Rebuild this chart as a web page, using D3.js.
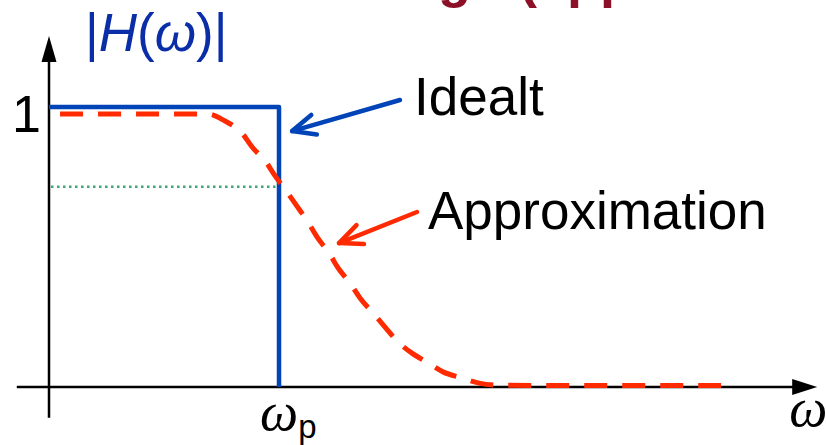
<!DOCTYPE html>
<html>
<head>
<meta charset="utf-8">
<script src="https://cdn.jsdelivr.net/npm/d3@7"></script>
<style>
  html, body { margin: 0; padding: 0; background: #ffffff; }
  svg { display: block; }
</style>
</head>
<body>
<svg id="chart" width="826" height="445"></svg>
<script>
// ---- data (frequency normalised so that omega_p = 1) ----
const idealOmega = [0, 1, 1];
const idealMag   = [1, 1, 0];

const approxOmega = [0.048, 0.691, 0.765, 0.839, 0.883, 0.943, 0.983, 1.035, 1.078, 1.126, 1.165,
                     1.217, 1.257, 1.309, 1.352, 1.409, 1.461, 1.517, 1.578, 1.648, 1.713, 1.796,
                     1.870, 1.961, 2.922];
const approxMag   = [0.975, 0.975, 0.950, 0.907, 0.857, 0.804, 0.754, 0.696, 0.646, 0.589, 0.536,
                     0.479, 0.425, 0.371, 0.318, 0.264, 0.214, 0.161, 0.121, 0.086, 0.054, 0.032,
                     0.014, 0.006, 0.005];

const halfPowerLevel = [0.715];          // dotted reference level
const xAxisExtent = [-0.14, 3.34];
const yAxisExtent = [-0.11, 1.254];

const yTickValues = [1];
const yTickLabels = ["1"];
const xTickValues = [1];

const labelIdeal  = "Idealt";
const labelApprox = "Approximation";
const titleText   = "Filterdesign (approximation)";

// ---- scales ----
const svg = d3.select("#chart");
svg.append("rect").attr("width", 826).attr("height", 445).attr("fill", "#ffffff");

const x = d3.scaleLinear().domain([0, 1]).range([49, 279]);
const y = d3.scaleLinear().domain([0, 1]).range([387, 107]);

const blue = "#0044b8";
const red = "#ff2a00";

// ---- clipped title at very top (only descenders visible, as in the reference) ----
svg.append("text")
  .attr("x", 198).attr("y", -3)
  .attr("font-family", "Liberation Sans, Arial, sans-serif")
  .attr("font-size", 54).attr("font-weight", "bold")
  .attr("fill", "#8b1028")
  .text(titleText);

// ---- axes ----
const axes = svg.append("g");
axes.append("line")
  .attr("x1", x(xAxisExtent[0])).attr("x2", x(xAxisExtent[1]) - 20)
  .attr("y1", y(0)).attr("y2", y(0))
  .attr("stroke", "#000").attr("stroke-width", 2.5);
axes.append("path")
  .attr("d", `M${x(xAxisExtent[1])},${y(0)} L${x(xAxisExtent[1]) - 25},${y(0) - 8} L${x(xAxisExtent[1]) - 25},${y(0) + 8} Z`)
  .attr("fill", "#000");
axes.append("line")
  .attr("x1", x(0)).attr("x2", x(0))
  .attr("y1", y(yAxisExtent[0])).attr("y2", y(yAxisExtent[1]) + 20)
  .attr("stroke", "#000").attr("stroke-width", 2.5);
axes.append("path")
  .attr("d", `M${x(0)},${y(yAxisExtent[1])} L${x(0) - 7.5},${y(yAxisExtent[1]) + 26} L${x(0) + 7.5},${y(yAxisExtent[1]) + 26} Z`)
  .attr("fill", "#000");

// y tick label "1"
svg.selectAll("text.ytick").data(yTickValues).enter().append("text")
  .attr("class", "ytick")
  .attr("x", x(0) - 37).attr("y", d => y(d) + 25)
  .attr("font-family", "Liberation Sans, Arial, sans-serif")
  .attr("font-size", 52).attr("fill", "#000")
  .text((d, i) => yTickLabels[i]);

// x tick label omega_p
xTickValues.forEach(v => {
  const t = svg.append("text").attr("x", x(v) - 19).attr("y", 430).attr("fill", "#000");
  t.append("tspan").attr("font-family", "Liberation Serif, Times New Roman, serif")
    .attr("font-style", "italic").attr("font-size", 54).text("ω");
  t.append("tspan").attr("font-family", "Liberation Sans, Arial, sans-serif")
    .attr("font-size", 33).attr("dy", 8).text("p");
});

// axis titles
const xt = svg.append("text").attr("x", x(xAxisExtent[1]) - 28).attr("y", 426).attr("fill", "#000");
xt.append("tspan").attr("font-family", "Liberation Serif, Times New Roman, serif")
  .attr("font-style", "italic").attr("font-size", 54).text("ω");

const yt = svg.append("text").attr("x", 85).attr("y", 51)
  .attr("fill", "#0a2ea8").attr("font-family", "Liberation Sans, Arial, sans-serif").attr("font-size", 53);
yt.append("tspan").text("|");
yt.append("tspan").attr("font-style", "italic").text("H");
yt.append("tspan").text("(");
yt.append("tspan").attr("font-style", "italic").text("ω");
yt.append("tspan").text(")|");

// ---- dotted half-power line ----
svg.selectAll("line.hp").data(halfPowerLevel).enter().append("line")
  .attr("class", "hp")
  .attr("x1", x(0) + 2).attr("x2", x(1))
  .attr("y1", d => y(d)).attr("y2", d => y(d))
  .attr("stroke", "#3fa878").attr("stroke-width", 2.5)
  .attr("stroke-dasharray", "2.5,3.5");

// ---- ideal response ----
const ideal = idealOmega.map((w, i) => [w, idealMag[i]]);
svg.append("path")
  .attr("d", d3.line().x(d => x(d[0])).y(d => y(d[1]))(ideal))
  .attr("fill", "none").attr("stroke", blue).attr("stroke-width", 4.5)
  .attr("stroke-linejoin", "round");

// ---- approximation ----
const approx = approxOmega.map((w, i) => [w, approxMag[i]]);
svg.append("path")
  .attr("d", d3.line().curve(d3.curveMonotoneX).x(d => x(d[0])).y(d => y(d[1]))(approx))
  .attr("fill", "none").attr("stroke", red).attr("stroke-width", 5)
  .attr("stroke-dasharray", "23,15");

// ---- annotation arrows ----
function arrow(tail, tip, color) {
  const [x0, y0] = [x(tail[0]), y(tail[1])];
  const [x1, y1] = [x(tip[0]), y(tip[1])];
  const ang = Math.atan2(y0 - y1, x0 - x1);
  const L = 25, a = 24 * Math.PI / 180;
  const g = svg.append("g").attr("stroke", color).attr("stroke-width", 4.5)
    .attr("stroke-linecap", "round").attr("stroke-linejoin", "round").attr("fill", "none");
  g.append("line").attr("x1", x0).attr("y1", y0).attr("x2", x1).attr("y2", y1);
  g.append("path").attr("d",
    `M${x1 + L * Math.cos(ang - a)},${y1 + L * Math.sin(ang - a)} L${x1},${y1} L${x1 + L * Math.cos(ang + a)},${y1 + L * Math.sin(ang + a)}`);
}
arrow([1.526, 1.025], [1.057, 0.914], blue);
arrow([1.600, 0.625], [1.261, 0.514], red);

// ---- labels ----
svg.append("text").attr("x", 414).attr("y", 115)
  .attr("font-family", "Liberation Sans, Arial, sans-serif").attr("font-size", 53).attr("fill", "#000")
  .text(labelIdeal);
svg.append("text").attr("x", 428).attr("y", 229)
  .attr("font-family", "Liberation Sans, Arial, sans-serif").attr("font-size", 53).attr("fill", "#000")
  .text(labelApprox);
</script>
</body>
</html>
